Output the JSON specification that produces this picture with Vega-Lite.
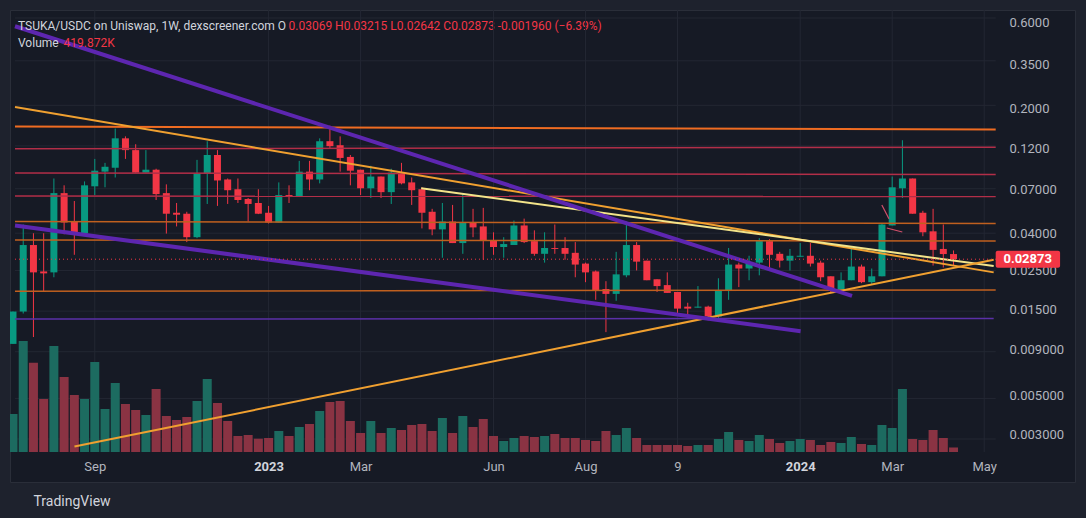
{
"$schema": "https://vega.github.io/schema/vega-lite/v6.json",
"width": 1065, "height": 472,
"autosize": "none",
"padding": {"left": 10, "top": 10, "right": 11, "bottom": 36},
"background": "#1e222d",
"config": {"view": {"fill": "#161a25", "stroke": "#2a2e39", "strokeWidth": 1}, "font": "Roboto"},
"title": {"text": "TSUKA/USDC on Uniswap, 1W, dexscreener.com  O", "subtitle": "Volume", "anchor": "start", "frame": "group", "offset": -40, "dx": 8, "color": "#d1d4dc", "subtitleColor": "#d1d4dc", "font": "Roboto", "subtitleFont": "Roboto", "fontSize": 12, "subtitleFontSize": 12, "fontWeight": "normal", "subtitlePadding": 5},
"datasets": {
"candles": [
{"date":"2022-07-11","open":0.00967,"high":0.01466,"low":0.00967,"close":0.01466,"volume":3534},
{"date":"2022-07-18","open":0.01466,"high":0.04489,"low":0.01429,"close":0.03447,"volume":10323},
{"date":"2022-07-25","open":0.03447,"high":0.04009,"low":0.01056,"close":0.02425,"volume":8305},
{"date":"2022-08-01","open":0.02455,"high":0.04009,"low":0.01885,"close":0.02394,"volume":4929},
{"date":"2022-08-08","open":0.02425,"high":0.08109,"low":0.02277,"close":0.06719,"volume":9858},
{"date":"2022-08-15","open":0.06719,"high":0.07427,"low":0.03959,"close":0.04604,"volume":6975},
{"date":"2022-08-22","open":0.04662,"high":0.0607,"low":0.0304,"close":0.04009,"volume":5301},
{"date":"2022-08-29","open":0.04009,"high":0.0781,"low":0.03995,"close":0.07427,"volume":4929},
{"date":"2022-09-05","open":0.07334,"high":0.1043,"low":0.06552,"close":0.08965,"volume":8370},
{"date":"2022-09-12","open":0.08856,"high":0.09914,"low":0.07242,"close":0.09428,"volume":3999},
{"date":"2022-09-19","open":0.0931,"high":0.1541,"low":0.08212,"close":0.1359,"volume":6417},
{"date":"2022-09-26","open":0.1359,"high":0.1394,"low":0.1043,"close":0.1168,"volume":4464},
{"date":"2022-10-03","open":0.1168,"high":0.126,"low":0.08745,"close":0.08745,"volume":3906},
{"date":"2022-10-10","open":0.08745,"high":0.1168,"low":0.08745,"close":0.09078,"volume":3441},
{"date":"2022-10-17","open":0.09078,"high":0.09193,"low":0.06152,"close":0.06635,"volume":5859},
{"date":"2022-10-24","open":0.06719,"high":0.07521,"low":0.03995,"close":0.05155,"volume":3348},
{"date":"2022-10-31","open":0.0522,"high":0.05919,"low":0.04378,"close":0.0509,"volume":2976},
{"date":"2022-11-07","open":0.05155,"high":0.05286,"low":0.0358,"close":0.03812,"volume":3255},
{"date":"2022-11-14","open":0.03812,"high":0.103,"low":0.03764,"close":0.08636,"volume":4743},
{"date":"2022-11-21","open":0.08636,"high":0.1309,"low":0.05845,"close":0.1097,"volume":6789},
{"date":"2022-11-28","open":0.1097,"high":0.1168,"low":0.057,"close":0.07907,"volume":4557},
{"date":"2022-12-05","open":0.08008,"high":0.08109,"low":0.05845,"close":0.06974,"volume":2883},
{"date":"2022-12-12","open":0.07062,"high":0.08109,"low":0.05919,"close":0.06152,"volume":1488},
{"date":"2022-12-19","open":0.0623,"high":0.06309,"low":0.04662,"close":0.05845,"volume":1581},
{"date":"2022-12-26","open":0.05919,"high":0.07062,"low":0.0513,"close":0.05155,"volume":1237},
{"date":"2023-01-02","open":0.0522,"high":0.057,"low":0.04546,"close":0.04604,"volume":1302},
{"date":"2023-01-09","open":0.04604,"high":0.07712,"low":0.04604,"close":0.06552,"volume":1953},
{"date":"2023-01-16","open":0.06552,"high":0.07427,"low":0.05919,"close":0.06389,"volume":1488},
{"date":"2023-01-23","open":0.06389,"high":0.1017,"low":0.06389,"close":0.08856,"volume":2325},
{"date":"2023-01-30","open":0.08856,"high":0.1017,"low":0.06974,"close":0.08008,"volume":2604},
{"date":"2023-02-06","open":0.08008,"high":0.1359,"low":0.07616,"close":0.1309,"volume":3813},
{"date":"2023-02-13","open":0.131,"high":0.16,"low":0.1198,"close":0.1229,"volume":4650},
{"date":"2023-02-20","open":0.1244,"high":0.1394,"low":0.08856,"close":0.1056,"volume":4743},
{"date":"2023-02-27","open":0.107,"high":0.1097,"low":0.07427,"close":0.08965,"volume":2883},
{"date":"2023-03-06","open":0.09078,"high":0.09078,"low":0.06552,"close":0.07151,"volume":1767},
{"date":"2023-03-13","open":0.07151,"high":0.09547,"low":0.06309,"close":0.08316,"volume":2883},
{"date":"2023-03-20","open":0.08316,"high":0.08316,"low":0.06309,"close":0.06804,"volume":1767},
{"date":"2023-03-27","open":0.06804,"high":0.09193,"low":0.05845,"close":0.08745,"volume":2232},
{"date":"2023-04-03","open":0.08745,"high":0.09914,"low":0.07521,"close":0.07616,"volume":2046},
{"date":"2023-04-10","open":0.07712,"high":0.08212,"low":0.05772,"close":0.06974,"volume":2511},
{"date":"2023-04-17","open":0.07062,"high":0.07242,"low":0.04269,"close":0.0522,"volume":2604},
{"date":"2023-04-24","open":0.05286,"high":0.05489,"low":0.03909,"close":0.04215,"volume":1953},
{"date":"2023-05-01","open":0.04215,"high":0.05919,"low":0.02928,"close":0.04662,"volume":3162},
{"date":"2023-05-08","open":0.04662,"high":0.05772,"low":0.03535,"close":0.03535,"volume":1767},
{"date":"2023-05-15","open":0.03535,"high":0.06719,"low":0.03079,"close":0.04604,"volume":3348},
{"date":"2023-05-22","open":0.04604,"high":0.05489,"low":0.03812,"close":0.04323,"volume":2325},
{"date":"2023-05-29","open":0.04378,"high":0.05558,"low":0.02855,"close":0.03671,"volume":3069},
{"date":"2023-06-05","open":0.03671,"high":0.0406,"low":0.0304,"close":0.03361,"volume":1488},
{"date":"2023-06-12","open":0.03361,"high":0.03812,"low":0.02928,"close":0.03491,"volume":1023},
{"date":"2023-06-19","open":0.03447,"high":0.04721,"low":0.03447,"close":0.04433,"volume":1302},
{"date":"2023-06-26","open":0.04433,"high":0.0484,"low":0.03535,"close":0.0358,"volume":1488},
{"date":"2023-07-03","open":0.03625,"high":0.04163,"low":0.03002,"close":0.03079,"volume":1395},
{"date":"2023-07-10","open":0.03079,"high":0.0406,"low":0.02749,"close":0.03319,"volume":1488},
{"date":"2023-07-17","open":0.03319,"high":0.04489,"low":0.03079,"close":0.03278,"volume":1674},
{"date":"2023-07-24","open":0.03319,"high":0.03812,"low":0.02855,"close":0.03079,"volume":1302},
{"date":"2023-07-31","open":0.03118,"high":0.0358,"low":0.02277,"close":0.02681,"volume":1302},
{"date":"2023-08-07","open":0.02715,"high":0.02749,"low":0.02138,"close":0.02425,"volume":1116},
{"date":"2023-08-14","open":0.02455,"high":0.02486,"low":0.01704,"close":0.01934,"volume":1023},
{"date":"2023-08-21","open":0.01958,"high":0.02165,"low":0.01125,"close":0.01839,"volume":1953},
{"date":"2023-08-28","open":0.01839,"high":0.03158,"low":0.01683,"close":0.02364,"volume":1581},
{"date":"2023-09-04","open":0.02335,"high":0.04662,"low":0.02277,"close":0.03447,"volume":2232},
{"date":"2023-09-11","open":0.03447,"high":0.0358,"low":0.02486,"close":0.02784,"volume":1302},
{"date":"2023-09-18","open":0.02819,"high":0.02819,"low":0.02192,"close":0.02192,"volume":651},
{"date":"2023-09-25","open":0.0222,"high":0.0222,"low":0.01885,"close":0.02033,"volume":651},
{"date":"2023-10-02","open":0.02059,"high":0.02425,"low":0.01862,"close":0.01862,"volume":651},
{"date":"2023-10-09","open":0.01885,"high":0.01885,"low":0.01394,"close":0.01522,"volume":651},
{"date":"2023-10-16","open":0.01561,"high":0.01641,"low":0.01394,"close":0.01522,"volume":558},
{"date":"2023-10-23","open":0.01541,"high":0.02033,"low":0.01541,"close":0.01561,"volume":651},
{"date":"2023-10-30","open":0.01561,"high":0.0158,"low":0.01309,"close":0.01376,"volume":651},
{"date":"2023-11-06","open":0.01376,"high":0.02248,"low":0.01309,"close":0.01934,"volume":1209},
{"date":"2023-11-13","open":0.01909,"high":0.03319,"low":0.01704,"close":0.02681,"volume":1860},
{"date":"2023-11-20","open":0.02681,"high":0.02749,"low":0.02007,"close":0.02549,"volume":1116},
{"date":"2023-11-27","open":0.02549,"high":0.03002,"low":0.02192,"close":0.02749,"volume":1023},
{"date":"2023-12-04","open":0.02749,"high":0.03764,"low":0.02335,"close":0.03625,"volume":1581},
{"date":"2023-12-11","open":0.03625,"high":0.03717,"low":0.02549,"close":0.0304,"volume":1209},
{"date":"2023-12-18","open":0.03079,"high":0.03158,"low":0.02582,"close":0.02819,"volume":837},
{"date":"2023-12-25","open":0.02819,"high":0.03278,"low":0.02486,"close":0.03002,"volume":1023},
{"date":"2024-01-01","open":0.02965,"high":0.03535,"low":0.02965,"close":0.03002,"volume":1209},
{"date":"2024-01-08","open":0.03002,"high":0.03535,"low":0.02614,"close":0.02715,"volume":1116},
{"date":"2024-01-15","open":0.02749,"high":0.02819,"low":0.02165,"close":0.02277,"volume":651},
{"date":"2024-01-22","open":0.02306,"high":0.02306,"low":0.01862,"close":0.01909,"volume":930},
{"date":"2024-01-29","open":0.01934,"high":0.02425,"low":0.01934,"close":0.02192,"volume":837},
{"date":"2024-02-05","open":0.02192,"high":0.03361,"low":0.02192,"close":0.02614,"volume":1395},
{"date":"2024-02-12","open":0.02614,"high":0.02681,"low":0.02111,"close":0.02138,"volume":744},
{"date":"2024-02-19","open":0.02138,"high":0.02549,"low":0.02085,"close":0.02306,"volume":651},
{"date":"2024-02-26","open":0.02306,"high":0.04546,"low":0.02306,"close":0.04489,"volume":2511},
{"date":"2024-03-04","open":0.04433,"high":0.08316,"low":0.04433,"close":0.07242,"volume":2232},
{"date":"2024-03-11","open":0.07151,"high":0.1326,"low":0.06309,"close":0.08109,"volume":5859},
{"date":"2024-03-18","open":0.08109,"high":0.08109,"low":0.05155,"close":0.05155,"volume":1209},
{"date":"2024-03-25","open":0.0522,"high":0.05353,"low":0.0386,"close":0.0406,"volume":1116},
{"date":"2024-04-01","open":0.04111,"high":0.05489,"low":0.02647,"close":0.03238,"volume":2046},
{"date":"2024-04-08","open":0.03278,"high":0.04489,"low":0.02582,"close":0.03069,"volume":1302},
{"date":"2024-04-15","open":0.03069,"high":0.03215,"low":0.02642,"close":0.02873,"volume":419.872}
],
"xticks": [{"date":"2022-09-05"},{"date":"2023-01-02"},{"date":"2023-03-06"},{"date":"2023-06-05"},{"date":"2023-08-07"},{"date":"2023-10-09"},{"date":"2024-01-01"},{"date":"2024-03-04"},{"date":"2024-05-06"}],
"yticks": [{"p":0.6},{"p":0.35},{"p":0.2},{"p":0.12},{"p":0.07},{"p":0.04},{"p":0.025},{"p":0.015},{"p":0.009},{"p":0.005},{"p":0.003}],
"levels": [
{"line":"red1","date":"2022-07-12T08:55:00Z","price":0.1188},{"line":"red1","date":"2024-05-13T21:00:00Z","price":0.1213},
{"line":"red2","date":"2022-07-12T08:55:00Z","price":0.0871},{"line":"red2","date":"2024-05-13T21:00:00Z","price":0.08528},
{"line":"red3","date":"2022-07-12T08:55:00Z","price":0.0647},{"line":"red3","date":"2024-05-13T21:00:00Z","price":0.0643},
{"line":"orange2","date":"2022-07-12T08:55:00Z","price":0.04662},{"line":"orange2","date":"2024-05-13T21:00:00Z","price":0.04546},
{"line":"orange3","date":"2022-07-12T08:55:00Z","price":0.0368},{"line":"orange3","date":"2024-05-13T21:00:00Z","price":0.03625},
{"line":"orange4","date":"2022-07-12T08:55:00Z","price":0.01902},{"line":"orange4","date":"2024-05-13T21:00:00Z","price":0.01934},
{"line":"purple_h","date":"2022-07-12T08:55:00Z","price":0.0133},{"line":"purple_h","date":"2024-05-12T12:00:00Z","price":0.01342}
],
"trends": [
{"line":"top_orange","date":"2022-07-12T08:55:00Z","price":0.158},{"line":"top_orange","date":"2024-05-13T21:00:00Z","price":0.1522},
{"line":"orange_desc","date":"2022-07-12T08:55:00Z","price":0.2033},{"line":"orange_desc","date":"2024-05-12T12:00:00Z","price":0.02425},
{"line":"yellow","date":"2023-04-16T12:00:00Z","price":0.07151},{"line":"yellow","date":"2024-05-12T12:00:00Z","price":0.0263},
{"line":"orange_asc","date":"2022-08-22T02:00:00Z","price":0.002583},{"line":"orange_asc","date":"2024-05-12T12:00:00Z","price":0.02855}
],
"purples": [
{"line":"purple_upper","date":"2022-07-12T08:55:00Z","price":0.5741},{"line":"purple_upper","date":"2024-02-05T12:00:00Z","price":0.01792},
{"line":"purple_lower","date":"2022-07-12T08:55:00Z","price":0.04433},{"line":"purple_lower","date":"2024-01-01T07:00:00Z","price":0.01139}
],
"pinks": [
{"line":"pink1","date":"2024-02-25T22:00:00Z","price":0.05772},{"line":"pink1","date":"2024-03-01T19:00:00Z","price":0.04835},
{"line":"pink2","date":"2024-02-29T07:00:00Z","price":0.0429},{"line":"pink2","date":"2024-03-10T22:00:00Z","price":0.04075}
]
},
"layer": [
{"data": {"name": "xticks"},
 "mark": {"type": "rule", "color": "#232733", "strokeWidth": 1},
 "encoding": {
  "x": {"field": "date", "type": "temporal",
   "scale": {"type": "utc", "nice": false, "domain": [{"year":2022,"month":7,"date":12,"hours":8,"minutes":55,"utc":true},{"year":2024,"month":7,"date":3,"hours":18,"utc":true}]},
   "axis": {"orient": "bottom", "offset": -30, "zindex": 1,
    "values": [{"year":2022,"month":9,"date":5,"utc":true},{"year":2023,"month":1,"date":2,"utc":true},{"year":2023,"month":3,"date":6,"utc":true},{"year":2023,"month":6,"date":5,"utc":true},{"year":2023,"month":8,"date":7,"utc":true},{"year":2023,"month":10,"date":9,"utc":true},{"year":2024,"month":1,"date":1,"utc":true},{"year":2024,"month":3,"date":4,"utc":true},{"year":2024,"month":5,"date":6,"utc":true}],
    "labelExpr": "utcmonth(datum.value) == 0 ? utcFormat(datum.value, '%Y') : (utcmonth(datum.value) == 9 ? '9' : utcFormat(datum.value, '%b'))",
    "labelFontWeight": {"condition": {"test": "utcmonth(datum.value) == 0", "value": "bold"}, "value": "normal"},
    "labelColor": {"condition": {"test": "utcmonth(datum.value) == 0", "value": "#d1d4dc"}, "value": "#b2b5be"},
    "labelFont": "Roboto", "labelFontSize": 13, "labelPadding": 8, "labelBaseline": "top",
    "ticks": false, "tickSize": 0, "domain": false, "grid": false, "labelFlush": false, "labelOverlap": false,
    "title": "TradingView", "titleColor": "#d1d4dc", "titleFont": "Roboto", "titleFontSize": 14, "titleFontWeight": "normal",
    "titleAnchor": "start", "titleAlign": "left", "titleBaseline": "middle", "titleX": 23, "titleY": 49}},
  "y": {"datum": 0.66356, "type": "quantitative", "scale": {"type": "log", "domain": [0.0017464, 0.66356], "nice": false, "zero": false}, "axis": null},
  "y2": {"datum": 0.0025474}
 }},
{"data": {"name": "yticks"},
 "mark": {"type": "rule", "color": "#232733", "strokeWidth": 1},
 "encoding": {
  "y": {"field": "p", "type": "quantitative", "scale": {"type": "log", "domain": [0.0017464, 0.66356], "nice": false, "zero": false}, "axis": null},
  "x": {"datum": {"year":2022,"month":7,"date":12,"hours":8,"minutes":55,"utc":true}, "type": "temporal"},
  "x2": {"datum": {"year":2024,"month":5,"date":13,"hours":21,"utc":true}}
 }},
{"data": {"name": "candles"},
 "mark": {"type": "bar", "size": 9, "clip": true},
 "encoding": {
  "x": {"field": "date", "type": "temporal"},
  "y": {"field": "volume", "type": "quantitative", "scale": {"domain": [-2790, 41106], "nice": false, "zero": false},
   "axis": {"orient": "left", "labels": false, "ticks": false, "domain": false, "grid": false, "zindex": 1,
    "title": "419.872K", "titleColor": "#f23645", "titleFont": "Roboto", "titleFontSize": 12, "titleFontWeight": "normal",
    "titleAngle": 0, "titleAlign": "left", "titleBaseline": "middle", "titleX": 53, "titleY": 32}},
  "y2": {"datum": 0},
  "color": {"condition": {"test": "datum.close >= datum.open", "value": "#1c6b60"}, "value": "#8a3343"}
 }},
{"layer": [
 {"data": {"name": "candles"},
  "mark": {"type": "rule", "strokeWidth": 1, "clip": true},
  "encoding": {
   "x": {"field": "date", "type": "temporal"},
   "y": {"field": "low", "type": "quantitative", "scale": {"type": "log", "domain": [0.0017464, 0.66356], "nice": false, "zero": false},
    "axis": {"orient": "right", "offset": -75, "zindex": 0,
     "values": [0.6, 0.35, 0.2, 0.12, 0.07, 0.04, 0.025, 0.015, 0.009, 0.005, 0.003],
     "labelExpr": "datum.value >= 0.1 ? format(datum.value, '.4f') : (datum.value >= 0.01 ? format(datum.value, '.5f') : format(datum.value, '.6f'))",
     "labelColor": "#b2b5be", "labelFont": "Roboto", "labelFontSize": 13, "labelPadding": 9, "labelAlign": "left", "labelBaseline": "middle",
     "ticks": false, "tickSize": 0, "domain": false, "grid": false, "labelOverlap": false, "labelFlush": false,
     "title": "0.03069  H0.03215  L0.02642  C0.02873  -0.001960 (−6.39%)", "titleColor": "#f23645", "titleFont": "Roboto", "titleFontSize": 12, "titleFontWeight": "normal",
     "titleAngle": 0, "titleAlign": "left", "titleBaseline": "middle", "titleX": -712, "titleY": 15}},
   "y2": {"field": "high"},
   "color": {"condition": {"test": "datum.close >= datum.open", "value": "#089981"}, "value": "#f23645"}
  }},
 {"data": {"name": "candles"},
  "mark": {"type": "bar", "size": 7, "clip": true},
  "encoding": {
   "x": {"field": "date", "type": "temporal"},
   "y": {"field": "open", "type": "quantitative"},
   "y2": {"field": "close"},
   "color": {"condition": {"test": "datum.close >= datum.open", "value": "#089981"}, "value": "#f23645"}
  }},
 {"data": {"name": "levels"},
  "mark": {"type": "line", "strokeWidth": 1.5, "clip": true},
  "encoding": {
   "x": {"field": "date", "type": "temporal"},
   "y": {"field": "price", "type": "quantitative"},
   "color": {"field": "line", "type": "nominal", "legend": null,
    "scale": {"domain": ["red1","red2","red3","orange2","orange3","orange4","purple_h","top_orange","orange_desc","yellow","orange_asc","purple_upper","purple_lower","pink1","pink2"],
     "range": ["#b22e48","#b22e48","#b22e48","#c0601f","#c0601f","#c0601f","#5b30a8","#ef6c22","#f0a030","#f3e48a","#f0a030","#5d26b0","#5d26b0","#d2506b","#d2506b"]}}
  }},
 {"data": {"name": "trends"},
  "mark": {"type": "line", "strokeWidth": 2, "clip": true},
  "encoding": {
   "x": {"field": "date", "type": "temporal"},
   "y": {"field": "price", "type": "quantitative"},
   "color": {"field": "line", "type": "nominal", "legend": null}
  }},
 {"data": {"name": "purples"},
  "mark": {"type": "line", "strokeWidth": 4, "clip": true},
  "encoding": {
   "x": {"field": "date", "type": "temporal"},
   "y": {"field": "price", "type": "quantitative"},
   "color": {"field": "line", "type": "nominal", "legend": null}
  }},
 {"data": {"name": "pinks"},
  "mark": {"type": "line", "strokeWidth": 1.2, "clip": true},
  "encoding": {
   "x": {"field": "date", "type": "temporal"},
   "y": {"field": "price", "type": "quantitative"},
   "color": {"field": "line", "type": "nominal", "legend": null}
  }},
 {"data": {"values": [{}]},
  "mark": {"type": "rule", "color": "#f23645", "strokeWidth": 1, "strokeDash": [1, 3]},
  "encoding": {
   "y": {"datum": 0.02873, "type": "quantitative"},
   "x": {"datum": {"year":2022,"month":7,"date":12,"hours":8,"minutes":55,"utc":true}, "type": "temporal"},
   "x2": {"datum": {"year":2024,"month":5,"date":13,"hours":21,"utc":true}}
  }},
 {"data": {"values": [{}]},
  "mark": {"type": "bar", "orient": "horizontal", "size": 17, "color": "#f23645", "cornerRadius": 2},
  "encoding": {
   "y": {"datum": 0.02873, "type": "quantitative"},
   "x": {"datum": {"year":2024,"month":5,"date":13,"hours":21,"utc":true}, "type": "temporal"},
   "x2": {"datum": {"year":2024,"month":6,"date":26,"hours":23,"utc":true}}
  }},
 {"data": {"values": [{}]},
  "mark": {"type": "text", "color": "#ffffff", "fontWeight": "bold", "fontSize": 13, "font": "Roboto", "align": "center", "baseline": "middle", "dx": 32},
  "encoding": {
   "y": {"datum": 0.02873, "type": "quantitative"},
   "x": {"datum": {"year":2024,"month":5,"date":13,"hours":21,"utc":true}, "type": "temporal"},
   "text": {"value": "0.02873"}
  }}
]}
],
"resolve": {"scale": {"y": "independent"}}
}
